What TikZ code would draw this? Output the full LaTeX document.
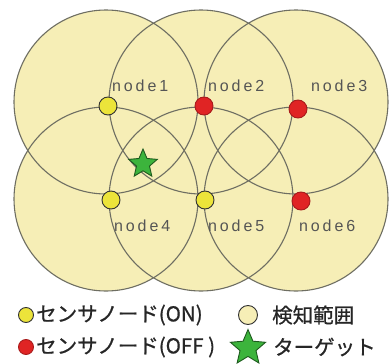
\documentclass[tikz,border=0pt]{standalone}
\usepackage{fontspec}
\setmainfont{Liberation Sans}
\newfontfamily\jpfont[FakeBold=0.8]{Noto Sans CJK JP}
\usepackage{xcolor}
\definecolor{rangeFill}{HTML}{F6EEB6}
\definecolor{rangeLine}{HTML}{6E6E62}
\definecolor{onYellow}{HTML}{ECE43A}
\definecolor{offRed}{HTML}{E02424}
\definecolor{tgtGreen}{HTML}{3CB43C}
\definecolor{labelGray}{HTML}{555555}
\usetikzlibrary{shapes.geometric}

\begin{document}
\begin{tikzpicture}[x=1pt, y=-1pt,
  rangeEdge/.style={draw=rangeLine, line width=1.1pt},
  sensorOn/.style={circle, draw=black!80, fill=onYellow, line width=0.9pt, minimum size=18pt, inner sep=0pt},
  sensorOff/.style={circle, draw=offRed!75!black, fill=offRed, line width=0.9pt, minimum size=18pt, inner sep=0pt},
  target/.style={star, star points=5, star point ratio=2.2, draw=tgtGreen!50!black, fill=tgtGreen, line width=0.9pt, minimum size=30pt, inner sep=0pt},
  lbl/.style={text=labelGray, font=\fontsize{16}{16}\selectfont\addfontfeatures{LetterSpace=18}, inner sep=0pt, anchor=base west},
  legend/.style={text=black!85, font=\jpfont\fontsize{20.5}{20.5}\selectfont, inner sep=0pt, anchor=west}]
  \useasboundingbox (0,0) rectangle (389,364);
  % detection ranges
  \foreach \x/\y in {106/102, 201/102, 296/102, 106/199, 201/199, 296/199}
    \fill[rangeFill] (\x,\y) circle (92pt);
  \foreach \x/\y in {106/102, 201/102, 296/102, 106/199, 201/199, 296/199}
    \draw[rangeEdge] (\x,\y) circle (92pt);
  % sensor nodes
  \node[sensorOn] (node1) at (108,106) {};
  \node[sensorOff] (node2) at (204,106) {};
  \node[sensorOff] (node3) at (298,109) {};
  \node[sensorOn] (node4) at (111,200) {};
  \node[sensorOn] (node5) at (205,200) {};
  \node[sensorOff] (node6) at (301,201) {};
  \node[lbl] (lbl1) at (112,92) {node1};
  \node[lbl] (lbl2) at (208,92) {node2};
  \node[lbl] (lbl3) at (311,92) {node3};
  \node[lbl] (lbl4) at (114,231) {node4};
  \node[lbl] (lbl5) at (208,231) {node5};
  \node[lbl] (lbl6) at (299,231) {node6};
  % target
  \node[target] (tgt) at (143,164) {};
  % legend
  \node[sensorOn, minimum size=15pt] (keyOn) at (26,315) {};
  \node[legend] (keyOnText) at (36,315) {センサノード(ON)};
  \node[circle, draw=black!80, fill=rangeFill, line width=0.9pt, minimum size=19pt] (keyRange) at (248,315) {};
  \node[legend] (keyRangeText) at (272,315) {検知範囲};
  \node[sensorOff, minimum size=15pt] (keyOff) at (26,347) {};
  \node[legend] (keyOffText) at (36,347) {センサノード(OFF )};
  \node[target, minimum size=37pt] (keyTgt) at (248,348) {};
  \node[legend] (keyTgtText) at (273,347) {ターゲット};
\end{tikzpicture}
\end{document}
